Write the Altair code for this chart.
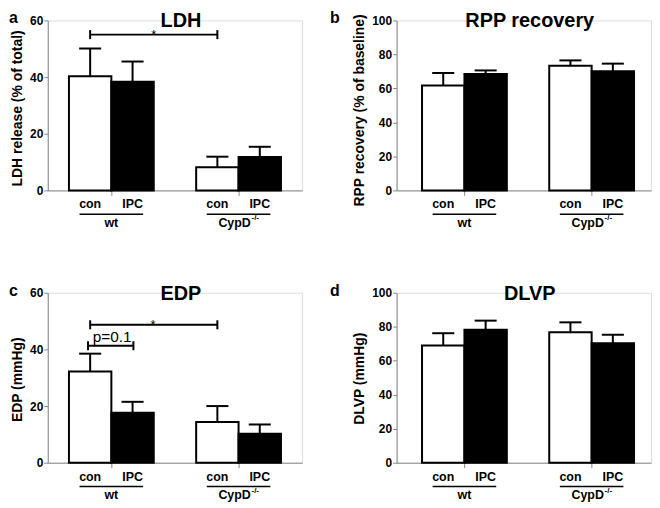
import altair as alt
import pandas as pd

# ---- data ----
positions = [1, 2, 4, 5]
conditions = ["con", "IPC", "con", "IPC"]
fills = ["white", "black", "white", "black"]
group_centers = [1.5, 4.5]
group_names = ["wt", "CypD"]

ldh_mean = [40.3, 38.4, 8.2, 11.8]
ldh_err = [9.8, 7.1, 3.7, 3.6]
rpp_mean = [61.8, 68.5, 73.3, 70.1]
rpp_err = [7.3, 2.1, 3.2, 4.5]
edp_mean = [32.2, 17.6, 14.4, 10.2]
edp_err = [6.3, 3.9, 5.6, 3.3]
dlvp_mean = [69.0, 78.3, 76.8, 70.3]
dlvp_err = [7.2, 5.3, 5.8, 5.0]

W, H = 256, 171
FONT = "Liberation Sans"


def panel(letter, title, ytitle, means, errs, ymax, xdom, ty, sigs=None):
    df = pd.DataFrame({
        "pos": positions,
        "cond": conditions,
        "fill": fills,
        "mean": means,
        "top": [m + e for m, e in zip(means, errs)],
    })
    df["zero"] = 0
    df["x0"] = df["pos"] - 0.5
    df["x1"] = df["pos"] + 0.5
    df["c0"] = df["pos"] - 0.26
    df["c1"] = df["pos"] + 0.26
    gdf = pd.DataFrame({"gc": group_centers, "g": group_names})
    gdf["g0"] = gdf["gc"] - 0.75
    gdf["g1"] = gdf["gc"] + 0.75

    xscale = alt.Scale(domain=xdom, nice=False, zero=False)
    xaxis = alt.Axis(values=[1.5, 4.5], labels=False, grid=False, tickSize=5,
                     title=None)
    yscale = alt.Scale(domain=[0, ymax], nice=False)
    yaxis = alt.Axis(values=list(range(0, ymax + 1, 20)), grid=False, tickSize=4,
                     title=ytitle, titleFontSize=14, titleFontWeight="bold",
                     titleFont=FONT, titleColor="black", titlePadding=5,
                     titleY=ty,
                     labelPadding=1, labelFontSize=12, labelFontWeight="bold",
                     labelFont=FONT, labelColor="black")

    def X(f):
        return alt.X(f, type="quantitative", scale=xscale, axis=xaxis)

    def Y(f):
        return alt.Y(f, type="quantitative", scale=yscale, axis=yaxis)

    base = alt.Chart(df)
    bars = base.mark_bar(stroke="black", strokeWidth=2).encode(
        x=X("x0"), x2="x1", y=Y("mean"), y2="zero",
        fill=alt.Fill("fill:N", scale=None))
    err = base.mark_rule(color="black", strokeWidth=2).encode(
        x=X("pos"), y=Y("mean"), y2="top")
    cap = base.mark_rule(color="black", strokeWidth=2).encode(
        x=X("c0"), x2="c1", y=Y("top"))
    lab = base.mark_text(font=FONT, fontWeight="bold", fontSize=12.5,
                         baseline="alphabetic", color="black").encode(
        x=X("pos"), y=alt.value(H + 18), text="cond:N")
    gb = alt.Chart(gdf)
    uline = gb.mark_rule(color="black", strokeWidth=1.5).encode(
        x=X("g0"), x2="g1", y=alt.value(H + 24))
    wt = alt.Chart(gdf.iloc[[0]]).mark_text(
        font=FONT, fontWeight="bold", fontSize=12.5, baseline="alphabetic",
        color="black").encode(x=X("gc"), y=alt.value(H + 37), text="g:N")
    cyp = alt.Chart(gdf.iloc[[1]]).mark_text(
        font=FONT, fontWeight="bold", fontSize=12.5, baseline="alphabetic",
        color="black", dx=-4).encode(x=X("gc"), y=alt.value(H + 37), text="g:N")
    sup = alt.Chart(gdf.iloc[[1]]).mark_text(
        font=FONT, fontWeight="bold", fontSize=8, baseline="alphabetic",
        align="left", color="black", dx=13).encode(
        x=X("gc"), y=alt.value(H + 30), text=alt.value("-/-"))

    tdf = pd.DataFrame({"t": [title], "l": [letter]})
    ttl = alt.Chart(tdf).mark_text(
        font=FONT, fontWeight="bold", fontSize=20, baseline="alphabetic",
        color="black").encode(x=alt.value(W / 2 + 6), y=alt.value(7), text="t:N")
    let = alt.Chart(tdf).mark_text(
        font=FONT, fontWeight="bold", fontSize=16, baseline="alphabetic",
        align="left", color="black").encode(
        x=alt.value(-39 if letter in ("a", "c") else -67), y=alt.value(3),
        text="l:N")

    layers = [bars, err, cap, lab, uline, wt, cyp, sup, ttl, let]

    if sigs:
        sdf = pd.DataFrame(sigs)
        sdf["lo"] = sdf["y"] - ymax * 0.0265
        sdf["hi"] = sdf["y"] + ymax * 0.0265
        sb = alt.Chart(sdf)
        layers.append(sb.mark_rule(color="black", strokeWidth=2).encode(
            x=X("x0"), x2="x1", y=Y("y")))
        layers.append(sb.mark_rule(color="black", strokeWidth=2).encode(
            x=X("x0"), y=Y("lo"), y2="hi"))
        layers.append(sb.mark_rule(color="black", strokeWidth=2).encode(
            x=X("x1"), y=Y("lo"), y2="hi"))
        star = sdf[sdf["label"] == "*"]
        ptxt = sdf[sdf["label"] != "*"]
        if len(star):
            layers.append(alt.Chart(star).mark_text(
                font=FONT, fontSize=13, baseline="alphabetic", color="black",
                dy=4).encode(x=X("tx"), y=Y("y"), text="label:N"))
        if len(ptxt):
            layers.append(alt.Chart(ptxt).mark_text(
                font=FONT, fontSize=15.5, baseline="alphabetic", color="black",
                dy=-4).encode(x=X("tx"), y=Y("y"), text="label:N"))

    return alt.layer(*layers).properties(width=W, height=H)


a = panel("a", "LDH", "LDH release (% of total)", ldh_mean, ldh_err, 60, [0, 6], 88,
          sigs={"x0": [1.0], "x1": [4.0], "y": [55.0], "tx": [2.5], "label": ["*"]})
b = panel("b", "RPP recovery", "RPP recovery (% of baseline)", rpp_mean, rpp_err,
          100, [-0.1, 5.9], 90)
c = panel("c", "EDP", "EDP (mmHg)", edp_mean, edp_err, 60, [0, 6], 87,
          sigs={"x0": [1.0, 0.95], "x1": [4.0, 2.02], "y": [48.7, 41.3],
                "tx": [2.48, 1.52], "label": ["*", "p=0.1"]})
d = panel("d", "DLVP", "DLVP (mmHg)", dlvp_mean, dlvp_err, 100, [-0.1, 5.9], 86)

chart = alt.concat(
    a, b, c, d, columns=2, spacing=alt.RowColnumber(row=103, column=95),
    bounds="flush",
).properties(padding=0).configure_view(stroke=None).configure_axis(
    domainColor="black", domainWidth=2, tickColor="black", tickWidth=2,
    grid=False,
).configure(background="white")

chart.save("out.html", embed_options={"renderer": "svg", "actions": False})
